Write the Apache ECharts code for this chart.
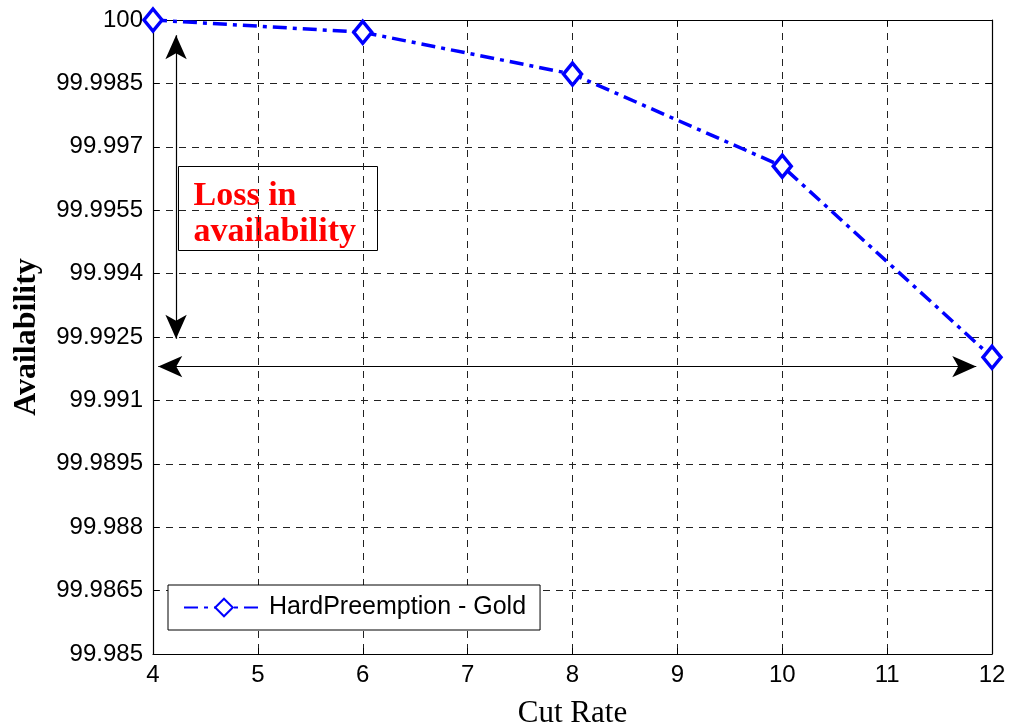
<!DOCTYPE html>
<html>
<head>
<meta charset="utf-8">
<script src="https://cdn.jsdelivr.net/npm/echarts@6/dist/echarts.min.js"></script>
<style>
  html, body { margin: 0; padding: 0; background: #fff; }
  #chart { width: 1010px; height: 725px; }
</style>
</head>
<body>
<div id="chart"></div>
<script>
// Cut rate on the x axis and resulting availability (%)
const cutRates = [4, 6, 8, 10, 12];
const availability = [100, 99.99971, 99.99872, 99.99654, 99.99202];
const seriesName = 'HardPreemption - Gold';

// Y-axis tick labels, bottom to top
const yTickLabels = ['99.985', '99.9865', '99.988', '99.9895', '99.991',
  '99.9925', '99.994', '99.9955', '99.997', '99.9985', '100'];

// Annotation arrows, in data coordinates
const lossArrow = [[4.22, 99.99964], [4.22, 99.99246]];
const spanArrow = [[4.05, 99.9918], [11.85, 99.9918]];

const chart = echarts.init(document.getElementById('chart'), null, { renderer: 'canvas' });

const tickFont = { fontFamily: 'Liberation Sans, Arial, sans-serif', fontSize: 24, color: '#000' };
const gridDash = { color: '#222', width: 1, type: [7, 6] };

const option = {
  animation: false,
  backgroundColor: '#fff',
  grid: { left: 153, right: 18, top: 20, bottom: 71, containLabel: false, outerBoundsMode: 'none' },
  xAxis: [{
    type: 'value',
    min: 4, max: 12, interval: 1,
    name: 'Cut Rate',
    nameLocation: 'middle',
    nameGap: 44,
    nameTextStyle: { fontFamily: 'Liberation Serif, Times New Roman, serif', fontSize: 31, color: '#000' },
    axisLine: { show: true, lineStyle: { color: '#000', width: 1.2 } },
    axisTick: { show: true, inside: true, length: 6, lineStyle: { color: '#000' } },
    axisLabel: Object.assign({ margin: 9 }, tickFont),
    splitLine: { show: true, lineStyle: gridDash }
  }, {
    type: 'value', position: 'top',
    min: 4, max: 12, interval: 1,
    axisLine: { show: true, lineStyle: { color: '#000', width: 1.2 } },
    axisTick: { show: true, inside: true, length: 6, lineStyle: { color: '#000' } },
    axisLabel: { show: false },
    splitLine: { show: false }
  }],
  yAxis: [{
    type: 'value',
    min: 99.985, max: 100, interval: 0.0015,
    name: 'Availability',
    nameLocation: 'middle',
    nameGap: 110,
    nameTextStyle: { fontFamily: 'Liberation Serif, Times New Roman, serif', fontSize: 32, fontWeight: 'bold', color: '#000' },
    axisLine: { show: true, lineStyle: { color: '#000', width: 1.2 } },
    axisTick: { show: true, inside: true, length: 6, lineStyle: { color: '#000' } },
    axisLabel: Object.assign({
      margin: 10,
      formatter: (v, i) => yTickLabels[i] !== undefined ? yTickLabels[i] : String(+v.toFixed(4))
    }, tickFont),
    splitLine: { show: true, lineStyle: gridDash }
  }, {
    type: 'value', position: 'right',
    min: 99.985, max: 100, interval: 0.0015,
    axisLine: { show: true, lineStyle: { color: '#000', width: 1.2 } },
    axisTick: { show: true, inside: true, length: 6, lineStyle: { color: '#000' } },
    axisLabel: { show: false },
    splitLine: { show: false }
  }],
  legend: {
    left: 168, top: 585,
    orient: 'vertical',
    backgroundColor: '#fff',
    borderColor: '#000', borderWidth: 1,
    padding: [10, 14, 10, 15],
    itemWidth: 80, itemHeight: 22,
    itemGap: 0,
    textStyle: { fontFamily: 'Liberation Sans, Arial, sans-serif', fontSize: 25, color: '#000' },
    data: [seriesName]
  },
  series: [{
    name: seriesName,
    type: 'line',
    data: cutRates.map((x, i) => [x, availability[i]]),
    symbol: 'diamond',
    symbolSize: [18, 22],
    showAllSymbol: true,
    clip: false,
    z: 5,
    lineStyle: { color: '#0000ff', width: 3.5, type: [14, 6, 4, 6] },
    itemStyle: { color: '#fff', borderColor: '#0000ff', borderWidth: 3.5, opacity: 1 },
    emphasis: { disabled: true },
    markLine: {
      silent: true,
      symbol: ['arrow', 'arrow'],
      symbolSize: [16, 24],
      label: { show: false },
      lineStyle: { color: '#000', width: 1.2, type: 'solid' },
      data: [
        [{ coord: lossArrow[0] }, { coord: lossArrow[1] }],
        [{ coord: spanArrow[0] }, { coord: spanArrow[1] }]
      ]
    }
  }],
  graphic: [{
    type: 'group',
    left: 178, top: 166,
    children: [{
      type: 'rect',
      shape: { x: 0, y: 0, width: 199, height: 84 },
      style: { fill: 'transparent', stroke: '#000', lineWidth: 1 }
    }, {
      type: 'text',
      x: 15, y: 12,
      style: {
        text: 'Loss in\navailability',
        fill: '#ff0000',
        font: 'bold 34px "Liberation Serif", "Times New Roman", serif',
        lineHeight: 36
      }
    }]
  }]
};

chart.setOption(option);
</script>
</body>
</html>
